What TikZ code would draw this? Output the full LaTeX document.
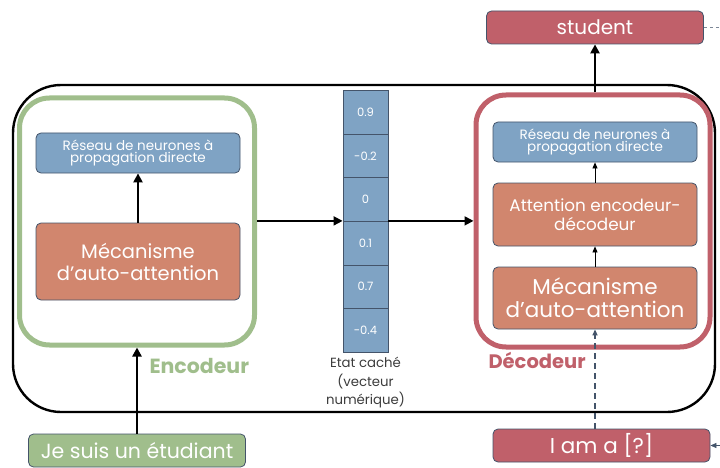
\documentclass[tikz,border=0pt]{standalone}
\usepackage{fontspec}
\setmainfont{Poppins}
\usetikzlibrary{arrows.meta}
\definecolor{encgreen}{RGB}{160,190,140}
\definecolor{decred}{RGB}{192,96,106}
\definecolor{boxblue}{RGB}{127,163,196}
\definecolor{boxorange}{RGB}{209,134,110}
\definecolor{edgegray}{RGB}{68,84,106}
\definecolor{txtgray}{RGB}{60,60,60}
\tikzset{
  box/.style={draw=edgegray, line width=0.8pt, rounded corners=5pt, text=white, align=center, inner sep=0pt},
  bluebox/.style={box, fill=boxblue, font=\fontsize{13.5}{14.5}\selectfont},
  orangebox/.style={box, fill=boxorange},
  cell/.style={draw=edgegray, line width=0.8pt, fill=boxblue, text=white, minimum width=45pt, minimum height=43.6pt, inner sep=0pt, font=\fontsize{11.5}{13}\selectfont},
  thick arrow/.style={line width=2.4pt, -{Triangle[length=9pt,width=9pt]}},
  thin arrow/.style={line width=0.8pt, -{Triangle[length=6pt,width=5pt]}},
}
\begin{document}
\begin{tikzpicture}[x=1pt,y=-1pt]
\useasboundingbox (0,0) rectangle (720,468);
% outer black frame
\draw[line width=2.4pt, rounded corners=48pt] (13,85) rectangle (715,412);
% encoder container
\node[draw=encgreen, line width=5pt, rounded corners=30pt, minimum width=235pt, minimum height=247pt, inner sep=0pt] (enc) at (137,221.5) {};
\node[bluebox, minimum width=204pt, minimum height=40pt] (encffn) at (138,153) {Réseau de neurones à\\[-2pt]propagation directe};
\node[orangebox, minimum width=204pt, minimum height=77pt, font=\fontsize{19.5}{23}\selectfont] (encatt) at (138,261.5) {Mécanisme\\[-1pt]d’auto-attention};
\draw[thick arrow] (encatt.north) -- (encffn.south);
\node[text=encgreen, font=\bfseries\fontsize{20.5}{22}\selectfont, anchor=west] (enclab) at (146,366) {Encodeur};
% input
\node[box, fill=encgreen, minimum width=217pt, minimum height=33pt, font=\fontsize{20.5}{23}\selectfont] (inp) at (137,450.5) {Je suis un étudiant};
\draw[thick arrow] (inp.north) -- (enc.south);
% hidden vector
\node[cell] (c1) at (365.5,112.3) {0.9};
\node[cell] (c2) at (365.5,155.9) {-0.2};
\node[cell] (c3) at (365.5,199.5) {0};
\node[cell] (c4) at (365.5,243.1) {0.1};
\node[cell] (c5) at (365.5,286.7) {0.7};
\node[cell] (c6) at (365.5,330.3) {-0.4};
\node[text=txtgray, align=center, font=\fontsize{13.3}{18.5}\selectfont, anchor=north] (veclab) at (365.5,354) {Etat caché\\(vecteur\\numérique)};
% decoder container
\node[draw=decred, line width=5pt, rounded corners=30pt, minimum width=234pt, minimum height=252pt, inner sep=0pt] (dec) at (593,221) {};
\node[bluebox, minimum width=204pt, minimum height=40pt] (decffn) at (595,142) {Réseau de neurones à\\[-2pt]propagation directe};
\node[orangebox, minimum width=204pt, minimum height=63pt, font=\fontsize{16.8}{19.5}\selectfont] (decea) at (595,214.5) {Attention encodeur-\\décodeur};
\node[orangebox, minimum width=204pt, minimum height=62pt, font=\fontsize{21.5}{25}\selectfont] (decatt) at (595,298) {Mécanisme\\[-2pt]d’auto-attention};
\draw[thin arrow] (decatt.north) -- (decea.south);
\draw[thin arrow] (decea.north) -- (decffn.south);
\node[text=decred, font=\bfseries\fontsize{19.5}{22}\selectfont, anchor=west] (declab) at (485,360) {Décodeur};
% encoder -> vector -> decoder
\coordinate (vin) at (c4.north west);
\coordinate (vout) at (c4.north east);
\draw[thick arrow, line width=1.8pt] (enc.east |- vin) -- (vin);
\draw[thick arrow, line width=1.8pt] (vout) -- (dec.west |- vout);
% output
\node[box, fill=decred, minimum width=217pt, minimum height=33pt, font=\fontsize{20}{22}\selectfont] (out) at (595,27.5) {student};
\draw[thick arrow] (dec.north -| out.south) -- (out.south);
\coordinate (outend) at (722,27.5);
\draw[edgegray!70, dashed, line width=0.6pt] (out.east) -- (outend);
% decoder input
\node[box, fill=decred, minimum width=217pt, minimum height=33pt, font=\fontsize{21.5}{23}\selectfont] (din) at (601.5,445.5) {I am a [?]};
\draw[edgegray, dashed, dash pattern=on 6pt off 4pt, line width=1.6pt, -{Triangle[length=6pt,width=5pt]}] (din.north -| decatt.south) -- (decatt.south);
\coordinate (dinsrc) at (724,445.5);
\draw[edgegray, line width=0.6pt, -{Triangle[length=6pt,width=5pt]}] (dinsrc) -- (din.east);
\end{tikzpicture}
\end{document}
